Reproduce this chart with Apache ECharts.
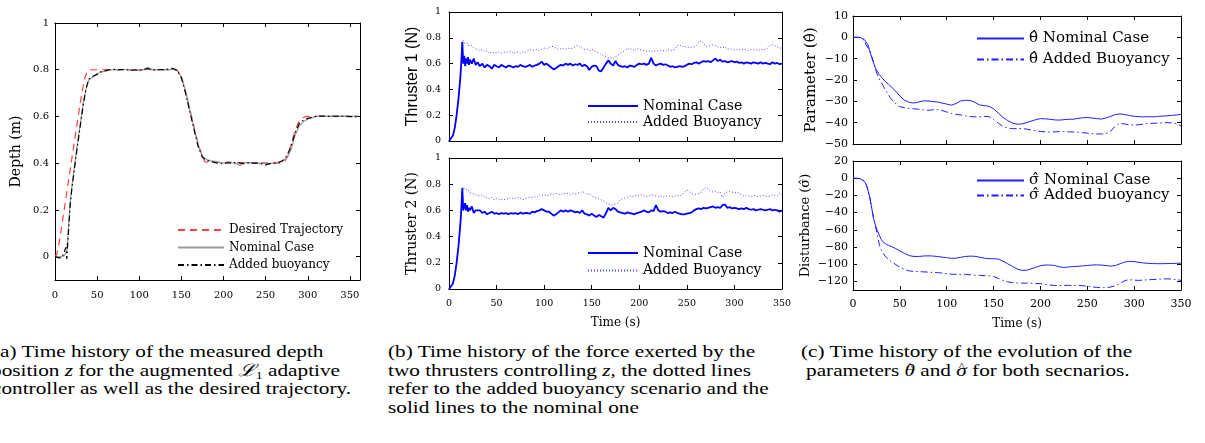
<!DOCTYPE html>
<html>
<head>
<meta charset="utf-8">
<script src="https://cdn.jsdelivr.net/npm/echarts@6/dist/echarts.min.js"></script>
<style>
body { margin:0; background:#fff; }
#wrap { position:relative; width:1205px; height:443px; overflow:hidden; background:#fff; }
.panel { position:absolute; left:0; top:0; width:1205px; height:330px; }
.cap { position:absolute; font-family:"Liberation Serif", serif; font-size:17px; line-height:18px; white-space:nowrap; color:#000; transform-origin:0 50%; transform:scaleX(1.25); }
.cap sub { font-size:11px; vertical-align:-3px; line-height:0; }
.cap .m { position:relative; font-style:italic; }
.cap .m .hat { position:absolute; left:2px; top:1px; font-style:normal; font-size:10px; line-height:10px; }
</style>
</head>
<body>
<div id="wrap">
  <div id="figA" class="panel"></div>
  <div id="figB" class="panel"></div>
  <div id="figC" class="panel"></div>

  <div class="cap" style="left:-7px;top:343px">(a) Time history of the measured depth</div>
  <div class="cap" style="left:-9px;top:362px">position <i>z</i> for the augmented <i>ℒ</i><sub>1</sub> adaptive</div>
  <div class="cap" style="left:-8px;top:380px">controller as well as the desired trajectory.</div>

  <div class="cap" style="left:388px;top:343px">(b) Time history of the force exerted by the</div>
  <div class="cap" style="left:388px;top:362px">two thrusters controlling <i>z</i>, the dotted lines</div>
  <div class="cap" style="left:388px;top:380px">refer to the added buoyancy scenario and the</div>
  <div class="cap" style="left:388px;top:399px">solid lines to the nominal one</div>

  <div class="cap" style="left:801px;top:343px">(c) Time history of the evolution of the</div>
  <div class="cap" style="left:806px;top:362px">parameters <span class="m">θ<span class="hat">^</span></span> and <span class="m">σ<span class="hat">^</span></span> for both secnarios.</div>
</div>
<script>
// (a) depth
var tDesired = [0, 2, 5, 10, 15, 20, 25, 30, 35, 38, 40, 145, 147, 151, 155, 160, 164, 168, 171, 175, 178, 180, 270, 273, 277, 281, 285, 289, 293, 297, 300, 362];
var depthDesired = [0, 0.01, 0.06, 0.18, 0.3, 0.42, 0.54, 0.66, 0.76, 0.79, 0.8, 0.8, 0.8, 0.76, 0.7, 0.63, 0.57, 0.51, 0.47, 0.43, 0.405, 0.4, 0.4, 0.41, 0.44, 0.49, 0.54, 0.575, 0.593, 0.599, 0.6, 0.6];

var tA = [0, 4, 8, 11, 13, 14, 16, 18, 20, 25, 30, 34, 37,
  40, 45, 50, 55, 60, 65, 70, 75, 80, 85, 90, 95, 100, 105, 110, 115, 120, 125, 130, 135, 140, 145,
  150, 155, 160, 165, 170, 175, 180, 185, 190, 195, 200, 205, 210, 215, 220, 225, 230, 235, 240, 245,
  250, 255, 260, 265, 270, 275, 280, 285, 290, 295, 300, 305, 310, 315, 320, 325, 330, 335, 340, 345,
  350, 355, 360];
var depthNominal = [0, 0, 0, 0.005, 0.01, 0.02, 0.12, 0.23, 0.3, 0.44, 0.57, 0.67, 0.72,
  0.755, 0.77, 0.783, 0.79, 0.795, 0.798, 0.8, 0.801, 0.8, 0.802, 0.798, 0.799, 0.796, 0.801, 0.81, 0.803, 0.799, 0.8, 0.801, 0.799, 0.802, 0.795,
  0.77, 0.71, 0.63, 0.55, 0.48, 0.43, 0.415, 0.41, 0.408, 0.404, 0.4, 0.405, 0.402, 0.398, 0.39, 0.403, 0.402, 0.4, 0.401, 0.399,
  0.4, 0.398, 0.402, 0.405, 0.41, 0.42, 0.455, 0.52, 0.56, 0.578, 0.588, 0.595, 0.6, 0.601, 0.6, 0.602, 0.6, 0.599, 0.601, 0.6,
  0.598, 0.6, 0.603];
var depthBuoy = [0, -0.005, -0.005, 0.02, 0.04, -0.01, 0.11, 0.22, 0.29, 0.43, 0.56, 0.66, 0.72,
  0.76, 0.772, 0.78, 0.792, 0.796, 0.8, 0.802, 0.799, 0.801, 0.8, 0.797, 0.8, 0.797, 0.8, 0.805, 0.8, 0.798, 0.801, 0.8, 0.803, 0.806, 0.797,
  0.765, 0.7, 0.62, 0.545, 0.47, 0.425, 0.412, 0.408, 0.402, 0.399, 0.398, 0.402, 0.4, 0.403, 0.4, 0.398, 0.401, 0.4, 0.4, 0.397,
  0.393, 0.398, 0.4, 0.403, 0.41, 0.43, 0.47, 0.53, 0.57, 0.585, 0.592, 0.597, 0.6, 0.602, 0.601, 0.6, 0.602, 0.601, 0.6, 0.602,
  0.6, 0.598, 0.6];

// (b) thrusters
var tB = [0, 2, 4, 6, 8, 10, 12, 13, 14, 15, 16, 17, 18, 19, 20, 21, 22, 24, 26, 28, 30,
  32.5, 35, 37.5, 40, 42.5, 45, 47.5, 50, 52.5, 55,
  57.5, 60, 62.5, 65, 67.5, 70, 72.5, 75, 77.5, 80,
  82.5, 85, 87.5, 90, 92.5, 95, 97.5, 100, 102.5, 105,
  107.5, 110, 112.5, 115, 117.5, 120, 122.5, 125, 127.5, 130,
  132.5, 135, 137.5, 140, 142.5, 145, 147.5, 150, 152.5, 155,
  157.5, 160, 162.5, 165, 167.5, 170, 172.5, 175, 177.5, 180,
  182.5, 185, 187.5, 190, 192.5, 195, 197.5, 200, 202.5, 205,
  207.5, 210, 212.5, 215, 217.5, 220, 222.5, 225, 227.5, 230,
  232.5, 235, 237.5, 240, 242.5, 245, 247.5, 250, 252.5, 255,
  257.5, 260, 262.5, 265, 267.5, 270, 272.5, 275, 277.5, 280,
  282.5, 285, 287.5, 290, 292.5, 295, 297.5, 300, 302.5, 305,
  307.5, 310, 312.5, 315, 317.5, 320, 322.5, 325, 327.5, 330,
  332.5, 335, 337.5, 340, 342.5, 345, 347.5, 350];
var thr1Nominal = [0, 0.01, 0.04, 0.1, 0.2, 0.33, 0.5, 0.62, 0.77, 0.6, 0.66, 0.58, 0.64, 0.6, 0.65, 0.59, 0.63, 0.6, 0.64, 0.59, 0.61,
  0.58, 0.6, 0.57, 0.59, 0.58, 0.56, 0.59, 0.58, 0.57, 0.59,
  0.58, 0.57, 0.585, 0.58, 0.57, 0.58, 0.575, 0.59, 0.58, 0.575,
  0.58, 0.59, 0.575, 0.585, 0.59, 0.6, 0.615, 0.59, 0.6, 0.585,
  0.57, 0.555, 0.565, 0.58, 0.59, 0.585, 0.6, 0.59, 0.6, 0.585,
  0.595, 0.59, 0.6, 0.58, 0.59, 0.58, 0.55, 0.575, 0.585, 0.58,
  0.545, 0.54, 0.57, 0.6, 0.625, 0.6, 0.585, 0.62, 0.59, 0.58,
  0.575, 0.58, 0.57, 0.585, 0.58, 0.575, 0.59, 0.6, 0.595, 0.6,
  0.59, 0.6, 0.645, 0.6, 0.585, 0.595, 0.6, 0.59, 0.595, 0.585,
  0.575, 0.58, 0.57, 0.575, 0.58, 0.575, 0.58, 0.59, 0.6, 0.595,
  0.605, 0.61, 0.6, 0.61, 0.62, 0.615, 0.62, 0.61, 0.625, 0.64,
  0.62, 0.63, 0.615, 0.62, 0.61, 0.615, 0.62, 0.61, 0.615, 0.605,
  0.61, 0.6, 0.61, 0.605, 0.6, 0.61, 0.605, 0.6, 0.61, 0.6,
  0.605, 0.6, 0.595, 0.61, 0.6, 0.605, 0.595, 0.6];
var thr1Buoy = [0, 0.01, 0.04, 0.1, 0.2, 0.33, 0.5, 0.62, 0.74, 0.78, 0.76, 0.77, 0.75, 0.76, 0.74, 0.75, 0.73, 0.74, 0.72, 0.73, 0.71,
  0.7, 0.71, 0.69, 0.7, 0.68, 0.69, 0.68, 0.685, 0.69, 0.68,
  0.69, 0.685, 0.69, 0.7, 0.68, 0.685, 0.69, 0.68, 0.69, 0.685,
  0.7, 0.71, 0.7, 0.705, 0.71, 0.7, 0.71, 0.72, 0.715, 0.725,
  0.735, 0.73, 0.72, 0.71, 0.715, 0.72, 0.71, 0.72, 0.715, 0.72,
  0.73, 0.745, 0.73, 0.72, 0.71, 0.715, 0.7, 0.71, 0.7, 0.69,
  0.685, 0.67, 0.66, 0.655, 0.645, 0.65, 0.64, 0.655, 0.665, 0.68,
  0.69, 0.7, 0.72, 0.71, 0.715, 0.7, 0.72, 0.71, 0.705, 0.7,
  0.695, 0.7, 0.69, 0.7, 0.695, 0.7, 0.705, 0.7, 0.695, 0.71,
  0.7, 0.705, 0.71, 0.74, 0.745, 0.73, 0.735, 0.72, 0.73, 0.725,
  0.73, 0.74, 0.77, 0.775, 0.76, 0.73, 0.735, 0.74, 0.745, 0.74,
  0.73, 0.725, 0.72, 0.73, 0.71, 0.715, 0.71, 0.705, 0.71, 0.705,
  0.71, 0.705, 0.71, 0.7, 0.71, 0.705, 0.71, 0.7, 0.71, 0.705,
  0.71, 0.72, 0.74, 0.745, 0.74, 0.73, 0.72, 0.72];
var thr2Nominal = [0, 0.01, 0.04, 0.1, 0.2, 0.33, 0.5, 0.62, 0.77, 0.6, 0.59, 0.655, 0.6, 0.64, 0.59, 0.62, 0.6, 0.63, 0.58, 0.6, 0.59,
  0.6, 0.58, 0.59, 0.57, 0.58, 0.59, 0.575, 0.58, 0.57, 0.58,
  0.575, 0.58, 0.57, 0.58, 0.575, 0.58, 0.57, 0.585, 0.575, 0.58,
  0.58, 0.575, 0.59, 0.585, 0.595, 0.6, 0.61, 0.6, 0.59, 0.59,
  0.575, 0.56, 0.57, 0.585, 0.6, 0.59, 0.6, 0.59, 0.6, 0.595,
  0.585, 0.59, 0.58, 0.6, 0.575, 0.57, 0.56, 0.575, 0.56, 0.55,
  0.565, 0.555, 0.545, 0.58, 0.62, 0.6, 0.62, 0.61, 0.59, 0.585,
  0.58, 0.575, 0.585, 0.58, 0.575, 0.57, 0.58, 0.585, 0.59, 0.6,
  0.59, 0.585, 0.6, 0.595, 0.64, 0.6, 0.59, 0.595, 0.59, 0.58,
  0.585, 0.58, 0.59, 0.58, 0.575, 0.57, 0.57, 0.575, 0.58, 0.585,
  0.6, 0.61, 0.615, 0.61, 0.62, 0.615, 0.62, 0.625, 0.63, 0.62,
  0.625, 0.62, 0.64, 0.645, 0.62, 0.625, 0.615, 0.62, 0.615, 0.61,
  0.615, 0.61, 0.62, 0.61, 0.605, 0.61, 0.6, 0.605, 0.61, 0.605,
  0.6, 0.605, 0.61, 0.6, 0.605, 0.6, 0.59, 0.6];
var thr2Buoy = [0, 0.01, 0.04, 0.1, 0.2, 0.33, 0.5, 0.62, 0.74, 0.78, 0.77, 0.76, 0.775, 0.75, 0.76, 0.74, 0.75, 0.73, 0.74, 0.72, 0.73,
  0.71, 0.72, 0.7, 0.695, 0.69, 0.7, 0.68, 0.69, 0.68, 0.685,
  0.68, 0.69, 0.685, 0.7, 0.69, 0.695, 0.7, 0.69, 0.68, 0.69,
  0.695, 0.7, 0.7, 0.705, 0.7, 0.72, 0.715, 0.72, 0.71, 0.72,
  0.725, 0.72, 0.73, 0.725, 0.72, 0.73, 0.725, 0.73, 0.72, 0.73,
  0.725, 0.735, 0.73, 0.745, 0.735, 0.72, 0.73, 0.71, 0.7, 0.695,
  0.69, 0.68, 0.67, 0.66, 0.65, 0.645, 0.64, 0.65, 0.655, 0.68,
  0.69, 0.695, 0.7, 0.71, 0.705, 0.71, 0.72, 0.715, 0.72, 0.71,
  0.705, 0.71, 0.72, 0.715, 0.71, 0.705, 0.71, 0.7, 0.71, 0.705,
  0.71, 0.705, 0.71, 0.715, 0.71, 0.72, 0.74, 0.755, 0.745, 0.73,
  0.72, 0.725, 0.73, 0.74, 0.765, 0.775, 0.76, 0.745, 0.74, 0.745,
  0.735, 0.74, 0.7, 0.735, 0.74, 0.745, 0.74, 0.735, 0.74, 0.73,
  0.72, 0.71, 0.715, 0.71, 0.705, 0.715, 0.71, 0.705, 0.71, 0.715,
  0.71, 0.705, 0.71, 0.72, 0.715, 0.71, 0.73, 0.72];

// (c) parameter / disturbance estimates
var tC = [0, 5, 8, 10, 12, 14, 16, 18, 20, 22, 24, 26, 28, 30, 32, 35, 38, 40, 45,
  50, 55, 60, 65, 70, 75, 80, 85, 90, 95,
  100, 105, 110, 115, 120, 125, 130, 135, 140, 145,
  150, 155, 160, 165, 170, 175, 180, 185, 190, 195,
  200, 205, 210, 215, 220, 225, 230, 235, 240, 245,
  250, 255, 260, 265, 270, 275, 280, 285, 290, 295,
  300, 305, 310, 315, 320, 325, 330, 335, 340, 345,
  350];
var thetaNominal = [0, 0, -0.1, -0.5, -1, -1.5, -3.5, -6.5, -9.5, -12, -14.5, -16, -17.5, -18.5, -19.5, -21, -22, -22.5, -25,
  -27.5, -29.5, -30.5, -30.8, -30.3, -29.8, -29.8, -30.1, -30.3, -30.8,
  -31.3, -31.8, -31, -29.8, -29.5, -29.6, -30.5, -31.7, -32, -32.3,
  -33.5, -35.5, -37.5, -39, -40.2, -40.7, -40.6, -40, -39.3, -38.6,
  -38.1, -38.2, -38.4, -38.7, -38.8, -38.6, -38.4, -38.4, -38, -37.7,
  -37.6, -37.8, -38.1, -38.3, -37.8, -37, -36.2, -35.9, -36.2, -36.6,
  -37, -37.2, -37.3, -37.2, -37.3, -37.1, -36.9, -36.8, -36.6, -36.4,
  -36.1];
var thetaBuoy = [0, 0, -0.1, -0.5, -1.5, -3.5, -5, -6.5, -9, -12, -15, -17.5, -19.5, -21, -22.5, -25, -27, -28.5, -31,
  -32.5, -33, -33.3, -33.5, -33.7, -34, -34.2, -34, -33.8, -34.3,
  -35, -35.7, -36.1, -36.4, -36.8, -37.1, -37.3, -37.2, -37, -37.2,
  -38.5, -40.2, -41.8, -42.5, -42.8, -42.8, -42.7, -43, -43.4, -43.8,
  -44.1, -44.3, -44.4, -44.3, -44.2, -44.2, -44.3, -44.4, -44.5, -44.7,
  -44.9, -45.1, -45.3, -45.3, -45.1, -44, -41.5, -40.3, -40.6, -41,
  -41.1, -41, -40.7, -40.4, -40.3, -40.2, -40.1, -40, -40.1, -40.5,
  -41.5];
var sigmaNominal = [0, -0.2, -0.6, -1.5, -3.5, -7, -14, -23, -35, -47, -55, -61, -66, -71, -74, -76.5, -78, -79, -81.5,
  -84.5, -87.5, -90, -91, -91, -90.5, -90.3, -90.5, -91, -91.8,
  -92.4, -93.2, -93, -92, -91, -90.6, -90.8, -91.8, -93, -93.6,
  -93.6, -94, -96.5, -99.5, -102.5, -105.5, -107.2, -107, -105.5, -103.5,
  -101.8, -101, -101, -101.5, -103, -103.8, -103.2, -102.8, -102.5, -102,
  -101.5, -101, -100.8, -101, -101.6, -102.2, -101.5, -99.5, -97.5, -96.7,
  -97, -97.8, -98.6, -99, -99.3, -99.4, -99.4, -99.3, -99.2, -99,
  -98.8];
var sigmaBuoy = [0, -0.2, -0.6, -1.5, -3.5, -7, -14, -23, -35, -47, -56, -66, -77, -83, -87, -91.5, -95, -97, -100,
  -103.5, -106, -107.8, -108.3, -108.6, -108.9, -109.2, -109.5, -109.8, -110.3,
  -111, -111.6, -111.8, -111.8, -111.8, -112.3, -112.8, -113, -113.3, -113.6,
  -114.3, -116.5, -118.8, -120.5, -121.5, -121.8, -122, -122, -122.2, -122.4,
  -122.7, -123.5, -124.3, -124.7, -124.8, -124.7, -124.6, -124.6, -124.7, -125,
  -125.6, -126.3, -127, -127.4, -127.2, -126.5, -125, -122.5, -119, -118,
  -118.6, -118.8, -118.5, -118.1, -117.8, -117.5, -117.2, -117, -117.3, -117.8,
  -118.8];

function pairs(xs, ys) {
  return xs.map(function (x, i) { return [x, ys[i]]; });
}

var serif = 'DejaVu Serif';

// one axis of the boxed (matlab style) frame
function frameAxis(pos, gi, min, max, interval, fs, showLabel, margin, keep) {
  var ax = {
    type: 'value', gridIndex: gi, position: pos, min: min, max: max,
    axisLine: { show: true, onZero: false, lineStyle: { color: '#000', width: 1 } },
    axisTick: { show: true, inside: true, length: 4, lineStyle: { color: '#000', width: 1 } },
    splitLine: { show: false },
    axisLabel: {
      show: showLabel, color: '#000', fontFamily: serif, fontSize: fs, margin: margin,
      formatter: function (v) {
        if (keep && !keep(v)) return '';
        return String(v).replace('-', '\u2212');
      }
    }
  };
  if (interval) ax.interval = interval; else ax.splitNumber = 7;
  return ax;
}

function axisName(ax, name, gap, font, size) {
  ax.name = name;
  ax.nameLocation = 'middle';
  ax.nameGap = gap;
  ax.nameTextStyle = { fontFamily: font, fontSize: size, color: '#000' };
  return ax;
}

function lineSeries(name, gi, xs, ys, color, width, type) {
  return {
    name: name, type: 'line', xAxisIndex: gi * 2, yAxisIndex: gi * 2,
    data: pairs(xs, ys), symbol: 'none', showSymbol: false,
    lineStyle: { color: color, width: width, type: type },
    itemStyle: { color: color }
  };
}

function legendBox(left, top, names, width, gap, size) {
  return {
    left: left, top: top, orient: 'vertical', padding: 0, selectedMode: false,
    itemWidth: width, itemHeight: 14, itemGap: gap,
    itemStyle: { opacity: 0 },
    textStyle: { fontFamily: serif, fontSize: size, color: '#000' },
    data: names
  };
}

// ---------- (a)
var chartA = echarts.init(document.getElementById('figA'));
var aKeepX = function (v) { return v % 50 === 0; };
var aKeepY = function (v) { return v >= 0; };
chartA.setOption({
  animation: false,
  grid: [{ left: 55, top: 23, width: 305, height: 257, containLabel: false, outerBoundsMode: 'none' }],
  xAxis: [
    frameAxis('bottom', 0, 0, 362, 50, 10, true, 10, aKeepX),
    frameAxis('top', 0, 0, 362, 50, 10, false, 8)
  ],
  yAxis: [
    axisName(frameAxis('left', 0, -0.1, 1, null, 10, true, 6, aKeepY), 'Depth (m)', 32, serif, 14),
    frameAxis('right', 0, -0.1, 1, null, 10, false, 6)
  ],
  legend: legendBox(177, 224, ['Desired Trajectory', 'Nominal Case', 'Added buoyancy'], 46, 5.5, 12),
  series: [
    lineSeries('Desired Trajectory', 0, tDesired, depthDesired, '#ff4040', 1.2, [7, 5]),
    lineSeries('Nominal Case', 0, tA, depthNominal, '#9a9a9a', 1.2, 'solid'),
    lineSeries('Added buoyancy', 0, tA, depthBuoy, '#000000', 1.2, [6, 3, 1.5, 3])
  ]
});

// ---------- (b)
var chartB = echarts.init(document.getElementById('figB'));
var blue = '#0000ff';
var dotBlue = '#4a4aff';
chartB.setOption({
  animation: false,
  grid: [
    { left: 449, top: 12, width: 333, height: 129, containLabel: false, outerBoundsMode: 'none' },
    { left: 449, top: 158, width: 333, height: 131, containLabel: false, outerBoundsMode: 'none' }
  ],
  xAxis: [
    frameAxis('bottom', 0, 0, 350, 50, 9.5, false, 8),
    frameAxis('top', 0, 0, 350, 50, 9.5, false, 8),
    axisName(frameAxis('bottom', 1, 0, 350, 50, 9.5, true, 10), 'Time (s)', 28, serif, 12),
    frameAxis('top', 1, 0, 350, 50, 9.5, false, 8)
  ],
  yAxis: [
    axisName(frameAxis('left', 0, 0, 1, 0.2, 9.5, true, 8), 'Thruster 1 (N)', 28, 'Liberation Sans', 16),
    frameAxis('right', 0, 0, 1, 0.2, 9.5, false, 8),
    axisName(frameAxis('left', 1, 0, 1, 0.2, 9.5, true, 8), 'Thruster 2 (N)', 30, serif, 14),
    frameAxis('right', 1, 0, 1, 0.2, 9.5, false, 8)
  ],
  legend: [
    legendBox(587, 99, ['Nominal Case', 'Added Buoyancy'], 50, 2, 14),
    legendBox(587, 246, ['Nominal Case', 'Added Buoyancy'], 50, 3.5, 14)
  ],
  series: [
    lineSeries('Added Buoyancy', 0, tB, thr1Buoy, dotBlue, 1, [1, 2]),
    lineSeries('Nominal Case', 0, tB, thr1Nominal, blue, 1.8, 'solid'),
    lineSeries('Added Buoyancy', 1, tB, thr2Buoy, dotBlue, 1, [1, 2]),
    lineSeries('Nominal Case', 1, tB, thr2Nominal, blue, 1.8, 'solid')
  ]
});

// ---------- (c)
var chartC = echarts.init(document.getElementById('figC'));
var cBlue = '#1f1fff';
var cKeepY = function (v) { return v % 20 === 0; };
chartC.setOption({
  animation: false,
  grid: [
    { left: 853, top: 16, width: 328, height: 128, containLabel: false, outerBoundsMode: 'none' },
    { left: 853, top: 161, width: 328, height: 129, containLabel: false, outerBoundsMode: 'none' }
  ],
  xAxis: [
    frameAxis('bottom', 0, 0, 350, 50, 11, false, 8),
    frameAxis('top', 0, 0, 350, 50, 11, false, 8),
    axisName(frameAxis('bottom', 1, 0, 350, 50, 11, true, 9), 'Time (s)', 28, serif, 12),
    frameAxis('top', 1, 0, 350, 50, 11, false, 8)
  ],
  yAxis: [
    axisName(frameAxis('left', 0, -50, 10, 10, 11, true, 5), 'Parameter (\u03B8\u0302)', 34, serif, 15),
    frameAxis('right', 0, -50, 10, 10, 11, false, 5),
    axisName(frameAxis('left', 1, -130, 20, null, 11, true, 5, cKeepY), 'Disturbance (\u03C3\u0302)', 41, serif, 13),
    frameAxis('right', 1, -130, 20, null, 11, false, 5)
  ],
  legend: [
    legendBox(976, 31, ['\u03B8\u0302 Nominal Case', '\u03B8\u0302 Added Buoyancy'], 47, 6, 15),
    legendBox(976, 173, ['\u03C3\u0302 Nominal Case', '\u03C3\u0302 Added buoyancy'], 47, 0, 15)
  ],
  series: [
    lineSeries('\u03B8\u0302 Nominal Case', 0, tC, thetaNominal, cBlue, 1, 'solid'),
    lineSeries('\u03B8\u0302 Added Buoyancy', 0, tC, thetaBuoy, cBlue, 1, [7, 3, 1.5, 3]),
    lineSeries('\u03C3\u0302 Nominal Case', 1, tC, sigmaNominal, cBlue, 1, 'solid'),
    lineSeries('\u03C3\u0302 Added buoyancy', 1, tC, sigmaBuoy, cBlue, 1, [7, 3, 1.5, 3])
  ]
});
</script>
</body>
</html>
